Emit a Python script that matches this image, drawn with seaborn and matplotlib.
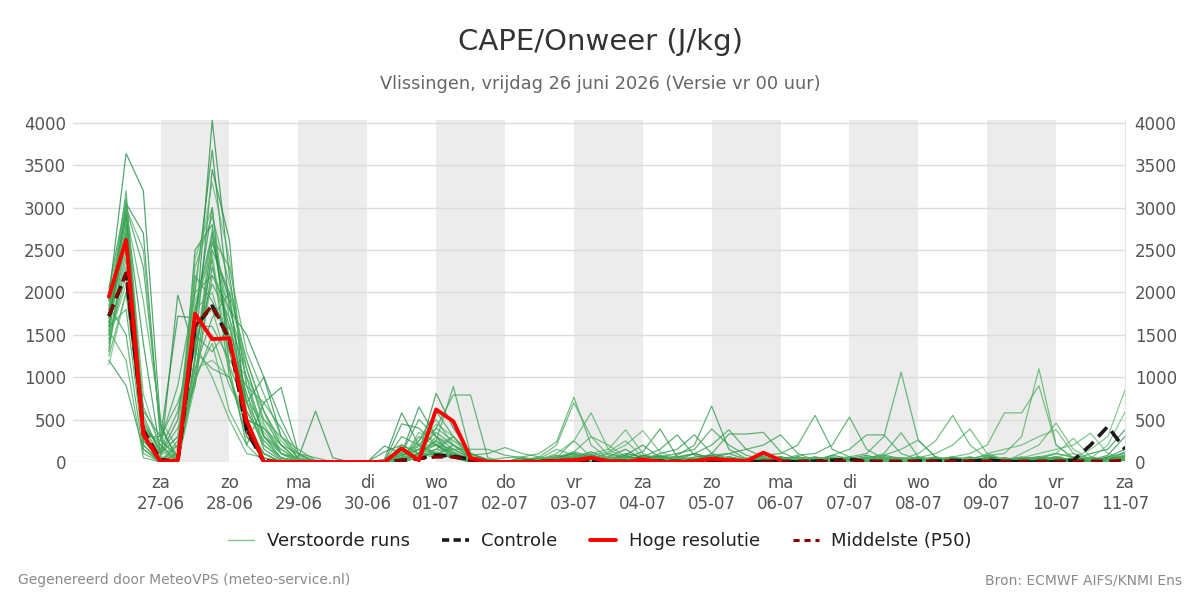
import numpy as np
import pandas as pd
import matplotlib
matplotlib.use("Agg")
import matplotlib.pyplot as plt
from matplotlib.lines import Line2D
import seaborn as sns

# ---------------- data ----------------
start_time = "2026-06-26 06:00"
n_steps = 60  # 6-hourly steps up to 11-07 00:00

day_names = ["za", "zo", "ma", "di", "wo", "do", "vr", "za", "zo", "ma", "di", "wo", "do", "vr", "za"]
day_dates = ["27-06", "28-06", "29-06", "30-06", "01-07", "02-07", "03-07", "04-07",
             "05-07", "06-07", "07-07", "08-07", "09-07", "10-07", "11-07"]

# perturbed members: early part (first 24 steps) + late part (36 steps)
m01 = [1950, 3640, 3200, 450, 0, 1200, 2600, 1900, 700, 150, 20, 0, 0, 0, 0, 0, 0, 50, 100, 250, 120, 30, 0, 0] + \
      [0,20,50,100,30,0,20,60,10,0,30,80,20,0,10,40,0,20,60,10,0,30,50,20,0,10,40,80,20,0,30,60,20,100,150,380]
m02 = [1700, 3050, 2700, 250, 80, 1500, 4030, 2200, 900, 300, 50, 10, 0, 0, 0, 0, 30, 580, 200, 100, 80, 20, 0, 0] + \
      [10,0,30,60,120,40,0,80,30,10,0,50,100,30,0,20,60,10,0,40,80,20,0,10,50,30,0,60,20,0,40,100,60,20,80,300]
m03 = [1600, 2950, 1400, 100, 500, 2000, 3680, 1800, 1500, 1000, 300, 40, 10, 0, 0, 0, 190, 100, 650, 300, 50, 10, 0, 0] + \
      [0,30,80,40,0,60,150,30,0,20,100,40,0,10,60,20,0,50,30,0,20,80,40,0,30,60,10,0,40,20,0,50,30,0,60,100]
m04 = [1800, 3000, 300, 50, 1970, 1300, 3450, 2620, 400, 100, 0, 0, 0, 0, 0, 0, 0, 0, 100, 810, 400, 100, 20, 0] + \
      [20,0,10,50,90,20,0,40,70,30,0,20,60,20,0,30,10,0,40,20,60,0,20,50,10,0,30,20,0,40,60,20,0,20,30,60]
m05 = [1500, 2800, 600, 300, 1720, 1700, 3000, 1100, 200, 700, 880, 100, 0, 0, 0, 0, 0, 450, 400, 200, 50, 0, 0, 0] + \
      [0,10,40,120,60,30,80,200,50,0,30,60,20,0,40,10,0,20,80,40,0,10,30,60,20,0,50,30,10,0,20,40,0,10,60,150]
m06 = [1300, 2700, 250, 20, 0, 2500, 2800, 1300, 500, 400, 100, 50, 600, 50, 0, 0, 0, 20, 150, 200, 100, 30, 0, 0] + \
      [30,10,0,60,40,100,50,120,390,60,0,40,30,10,0,60,20,0,30,50,10,0,40,20,60,0,30,10,0,20,50,10,30,0,40,80]
m07 = [1200, 900, 150, 0, 200, 1800, 2700, 1400, 700, 1000, 500, 80, 0, 0, 0, 0, 0, 0, 50, 150, 300, 50, 0, 0] + \
      [0,40,20,0,80,30,100,60,150,320,80,20,0,30,60,10,0,40,20,0,50,30,0,10,40,20,0,60,30,0,20,10,50,0,20,40]
m08 = [2050, 3100, 400, 200, 0, 1000, 2500, 2000, 1200, 600, 200, 20, 0, 0, 0, 0, 120, 200, 100, 80, 200, 100, 20, 0] + \
      [50,0,20,80,40,0,60,30,100,150,320,100,40,0,30,20,60,0,10,40,30,0,20,60,10,0,40,20,0,30,10,50,20,0,30,120]
m09 = [1900, 2900, 500, 100, 300, 900, 2300, 1600, 800, 200, 50, 0, 0, 0, 0, 0, 0, 100, 500, 300, 150, 50, 0, 0] + \
      [0,20,60,30,0,40,20,80,30,60,100,50,20,0,40,60,10,0,30,20,0,50,30,10,0,40,20,0,30,60,20,0,10,40,20,50]
m10 = [1750, 2600, 200, 0, 100, 1400, 2100, 1700, 1000, 300, 100, 10, 0, 0, 0, 0, 0, 300, 200, 100, 50, 20, 0, 0] + \
      [20,0,40,100,30,10,60,40,0,80,200,660,150,40,0,30,20,60,10,0,30,20,0,40,10,30,0,20,50,10,0,30,20,0,40,70]
m11 = [1650, 2750, 300, 50, 0, 2200, 1900, 1500, 600, 250, 50, 0, 0, 0, 0, 0, 0, 60, 250, 600, 300, 100, 30, 0] + \
      [0,30,10,50,80,20,0,40,60,100,150,390,200,80,30,0,20,40,0,30,10,60,20,0,30,50,10,0,20,40,0,30,10,60,20,30]
m12 = [1550, 3000, 2300, 400, 50, 1100, 1700, 2000, 300, 50, 0, 0, 0, 0, 0, 0, 0, 200, 100, 100, 50, 0, 0, 0] + \
      [40,10,0,30,60,20,80,30,0,50,100,200,380,150,60,20,0,30,50,10,0,20,40,0,30,10,60,20,0,30,40,0,20,50,10,60]
m13 = [1400, 2500, 450, 150, 600, 1600, 1600, 1200, 900, 700, 400, 30, 0, 0, 0, 0, 0, 80, 150, 350, 200, 60, 0, 0] + \
      [0,50,20,0,40,10,60,30,80,40,20,100,330,330,350,120,30,0,20,40,10,0,30,20,50,0,10,40,20,0,30,60,10,0,20,50]
m14 = [1850, 1500, 100, 0, 0, 1250, 2400, 1000, 400, 100, 0, 0, 0, 0, 0, 0, 0, 50, 300, 200, 80, 20, 0, 0] + \
      [30,0,60,20,0,50,30,0,40,20,60,80,100,150,200,320,100,20,0,40,30,10,0,50,20,0,40,10,30,0,60,20,0,30,10,40]
m15 = [1450, 2200, 350, 250, 900, 2000, 2200, 1800, 1100, 500, 200, 20, 0, 0, 0, 0, 0, 40, 100, 250, 890, 100, 20, 0] + \
      [0,20,40,10,60,30,0,50,20,40,0,30,60,20,80,100,200,550,150,60,20,0,30,40,10,0,50,20,0,30,10,40,20,0,30,60]
m16 = [1600, 1800, 200, 0, 0, 1500, 1300, 1600, 700, 300, 150, 10, 0, 0, 0, 0, 0, 100, 200, 400, 790, 790, 50, 0] + \
      [20,40,0,30,50,10,40,0,20,60,30,0,40,20,60,30,80,100,200,530,150,40,0,30,20,10,0,40,20,50,0,30,10,40,0,20]
m17 = [1700, 3200, 550, 100, 400, 950, 1500, 900, 500, 400, 200, 100, 50, 0, 0, 0, 0, 80, 150, 100, 50, 80, 100, 170] + \
      [100,60,30,0,40,20,60,10,0,30,50,20,0,40,20,60,30,10,80,150,320,320,100,30,0,20,50,10,0,30,60,20,0,40,10,30]
m18 = [1250, 2000, 300, 300, 700, 1300, 1100, 1000, 300, 100, 0, 0, 0, 0, 0, 0, 0, 0, 100, 200, 150, 150, 150, 80] + \
      [50,20,0,40,60,10,30,0,50,20,40,60,10,0,30,50,20,0,40,60,100,300,1060,250,60,20,0,30,40,10,0,50,20,30,0,40]
m19 = [1900, 2850, 250, 50, 0, 1700, 2650, 2300, 1300, 800, 300, 150, 20, 0, 0, 0, 0, 30, 80, 400, 250, 100, 20, 50] + \
      [60,100,240,765,200,40,0,30,60,20,0,40,10,30,60,0,20,50,10,0,40,100,345,60,20,0,30,10,50,20,0,40,10,0,30,60]
m20 = [1800, 2650, 150, 0, 100, 2300, 2900, 2100, 1100, 450, 100, 0, 0, 0, 0, 0, 0, 0, 60, 100, 150, 50, 0, 0] + \
      [20,40,150,80,30,0,50,20,40,0,30,60,20,0,40,10,60,30,0,20,50,80,150,260,60,0,20,40,10,30,0,50,20,10,40,20]
m21 = [1350, 2400, 650, 200, 0, 1000, 1400, 600, 200, 0, 0, 0, 0, 0, 0, 0, 0, 100, 50, 300, 200, 50, 0, 0] + \
      [0,60,200,700,300,200,60,20,0,40,10,30,50,0,20,40,10,30,0,50,20,60,30,100,250,550,200,40,0,30,20,10,50,0,20,40]
m22 = [1550, 1200, 50, 0, 250, 1400, 1000, 500, 100, 50, 0, 0, 0, 0, 0, 0, 0, 50, 100, 150, 100, 0, 0, 0] + \
      [30,10,50,250,60,20,0,40,20,60,0,30,50,10,0,40,20,60,30,0,20,40,10,50,100,200,390,100,30,0,20,40,10,30,0,50]
m23 = [1750, 2950, 1900, 500, 150, 1800, 2000, 1300, 1000, 600, 250, 50, 0, 0, 0, 0, 0, 0, 250, 500, 200, 50, 0, 0] + \
      [0,30,100,250,580,150,40,0,20,50,10,30,0,40,20,60,10,0,30,20,50,0,40,10,30,60,100,200,580,580,900,200,40,0,30,60]
m24 = [2000, 3000, 2500, 300, 0, 1200, 2750, 1700, 600, 200, 30, 0, 0, 0, 0, 0, 0, 200, 100, 50, 100, 30, 0, 0] + \
      [40,0,60,120,300,80,20,0,30,60,10,40,20,0,50,30,0,20,40,10,60,0,30,20,10,50,30,80,100,300,1100,200,50,0,20,40]
m25 = [1500, 2300, 400, 100, 300, 2400, 3000, 1400, 800, 350, 100, 20, 0, 0, 0, 0, 0, 50, 80, 120, 60, 0, 0, 0] + \
      [10,50,20,60,100,150,380,100,30,0,40,20,60,10,0,30,50,20,0,40,10,60,30,0,20,50,10,40,0,100,200,460,150,30,0,60]
m26 = [1650, 2550, 300, 50, 100, 1600, 1800, 1100, 700, 500, 300, 100, 10, 0, 0, 0, 0, 0, 350, 250, 100, 20, 0, 0] + \
      [60,20,0,40,80,120,250,60,20,0,30,50,10,40,0,20,60,30,0,50,20,10,40,0,30,60,20,100,150,200,300,380,100,20,0,30]
m27 = [1850, 3050, 800, 150, 0, 900, 2200, 1900, 1200, 600, 100, 0, 0, 0, 0, 0, 0, 120, 150, 200, 300, 100, 0, 0] + \
      [0,40,60,20,50,100,200,370,120,40,0,30,20,50,10,0,40,20,60,0,30,10,50,20,0,40,60,10,30,0,50,100,280,60,20,40]
m28 = [1450, 2100, 200, 0, 50, 1100, 1200, 1000, 500, 100, 0, 0, 0, 0, 0, 0, 0, 20, 50, 150, 100, 20, 0, 0] + \
      [20,0,30,50,10,40,60,20,0,50,30,10,40,0,60,20,30,0,40,10,50,20,0,30,60,10,40,0,20,50,100,150,200,340,100,50]
m29 = [1950, 2750, 350, 80, 200, 2100, 3300, 2400, 900, 400, 150, 30, 0, 0, 0, 0, 0, 0, 200, 450, 300, 40, 0, 0] + \
      [0,20,40,80,30,0,50,20,40,10,0,30,60,20,0,40,10,50,20,0,30,60,10,0,40,20,50,10,0,30,60,100,50,150,300,850]
m30 = [1150, 2000, 450, 0, 150, 1900, 2450, 1150, 600, 250, 50, 0, 0, 0, 0, 0, 0, 100, 180, 220, 120, 10, 0, 0] + \
      [30,60,20,0,40,60,10,30,0,50,20,40,0,30,60,10,0,40,20,50,0,30,20,60,10,0,40,20,50,0,30,60,100,40,200,590]

members = [m01, m02, m03, m04, m05, m06, m07, m08, m09, m10, m11, m12, m13, m14, m15,
           m16, m17, m18, m19, m20, m21, m22, m23, m24, m25, m26, m27, m28, m29, m30]

controle = [1720, 2220, 370, 20, 0, 1590, 1840, 1440, 370, 0, 0, 0, 0, 0, 0, 0, 0, 20, 40, 80, 70, 30, 0, 0] + \
           [0,0,10,20,10,0,0,10,10,0,0,10,20,10,0,10,0,10,20,30,10,0,0,10,10,20,10,20,10,0,0,0,20,200,420,150]

hoge_resolutie = [1950, 2620, 320, 0, 20, 1750, 1450, 1460, 490, 0, 0, 0, 0, 0, 0, 0, 0, 160, 20, 620, 480, 50, 0, 0] + \
                 [0, 0, 10, 20, 50, 10, 0, 30, 0, 0, 10, 40, 20, 10, 110, 20]

p50 = [1730, 2230, 380, 30, 10, 1600, 1850, 1450, 380, 20, 0, 0, 0, 0, 0, 0, 0, 20, 40, 60, 60, 20, 0, 0] + \
      [10,10,20,20,20,10,10,20,10,10,10,20,20,10,10,10,10,10,10,10,10,10,10,10,10,10,10,10,10,10,10,10,10,10,10,20]

# ---------------- build ----------------
times = pd.date_range(start_time, periods=n_steps, freq="6h")
rows = []
for k, m in enumerate(members):
    for t, v in zip(times, m):
        rows.append((f"m{k+1:02d}", t, v))
ens = pd.DataFrame(rows, columns=["member", "time", "value"])

sns.set_style("white")
plt.rcParams["font.family"] = ["DejaVu Sans"]

fig = plt.figure(figsize=(12, 6), dpi=100)
ax = fig.add_axes([73 / 1200, 138 / 600, (1125 - 73) / 1200, (462 - 120) / 600])

day_ticks = pd.date_range("2026-06-27", periods=len(day_dates), freq="D")
for i in range(0, len(day_ticks) - 1, 2):
    ax.axvspan(day_ticks[i], day_ticks[i] + pd.Timedelta(days=1), color="#ececec", zorder=0, lw=0)

greens = sns.blend_palette(["#14863a", "#2f9e4a", "#5cb86c"], len(members))
sns.lineplot(data=ens, x="time", y="value", hue="member", palette=greens, legend=False,
             errorbar=None, estimator=None, lw=0.9, alpha=0.72, ax=ax, zorder=2)
sns.lineplot(x=times, y=controle, ax=ax, color="#1a1a1a", lw=2.6, linestyle=(0, (3.5, 2)),
             errorbar=None, zorder=3)
sns.lineplot(x=times[:len(hoge_resolutie)], y=hoge_resolutie, ax=ax, color="#ff0000", lw=2.8,
             errorbar=None, zorder=5)
sns.lineplot(x=times, y=p50, ax=ax, color="#8b0000", lw=2.4, linestyle=(0, (3.5, 2)),
             errorbar=None, zorder=4)

x_left = times[0] - pd.Timedelta(hours=12.5)
ax.set_xlim(x_left, day_ticks[-1])
ax.set_ylim(0, 4035)
yt = [0, 500, 1000, 1500, 2000, 2500, 3000, 3500, 4000]
ax.set_yticks(yt)
ax.set_yticklabels([str(v) for v in yt])
ax.yaxis.grid(True, color="#dcdcdc", lw=1)
ax.set_axisbelow(True)
ax.set_xticks(day_ticks)
ax.set_xticklabels([f"{d}\n{s}" for d, s in zip(day_names, day_dates)])
ax.set_xlabel("")
ax.set_ylabel("")
ax.tick_params(axis="x", length=6, width=1.6, color="#666666", labelsize=12,
               labelcolor="#555555", pad=3)
ax.tick_params(axis="y", length=0, labelsize=12, labelcolor="#555555", pad=5)
for s in ["left", "top", "bottom"]:
    ax.spines[s].set_visible(False)
ax.spines["right"].set_visible(True)
ax.spines["right"].set_color("#e3e3e3")

ax2 = ax.twinx()
ax2.set_ylim(ax.get_ylim())
ax2.set_yticks(yt)
ax2.set_yticklabels([str(v) for v in yt])
ax2.tick_params(axis="y", length=0, labelsize=12, labelcolor="#555555", pad=7)
for s in ["left", "top", "bottom", "right"]:
    ax2.spines[s].set_visible(False)

fig.text(0.5, 0.93, "CAPE/Onweer (J/kg)", ha="center", va="center", fontsize=21, color="#333333")
fig.text(0.5, 0.86, "Vlissingen, vrijdag 26 juni 2026 (Versie vr 00 uur)", ha="center", va="center",
         fontsize=12.8, color="#666666")

handles = [
    Line2D([0], [0], color="#7cc68a", lw=1),
    Line2D([0], [0], color="#1a1a1a", lw=2.6, linestyle=(0, (2, 1.2))),
    Line2D([0], [0], color="#ff0000", lw=2.8),
    Line2D([0], [0], color="#8b0000", lw=2.2, linestyle=(0, (2, 1.6))),
]
labels = ["Verstoorde runs", "Controle", "Hoge resolutie", "Middelste (P50)"]
fig.legend(handles, labels, loc="center", bbox_to_anchor=(0.5, 0.098), ncol=4, frameon=False,
           fontsize=13, handlelength=1.45, columnspacing=1.8, handletextpad=0.7, labelcolor="#222222")

fig.text(0.015, 0.033, "Gegenereerd door MeteoVPS (meteo-service.nl)", ha="left", va="center",
         fontsize=10, color="#8a8a8a")
fig.text(0.985, 0.033, "Bron: ECMWF AIFS/KNMI Ens", ha="right", va="center",
         fontsize=10, color="#8a8a8a")

fig.savefig("out.png", dpi=100)
